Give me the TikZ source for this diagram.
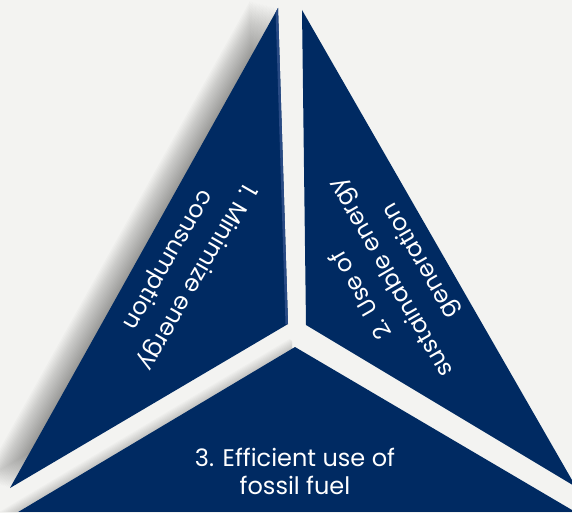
\documentclass[tikz,border=0pt]{standalone}
\usepackage{fontspec}
\setmainfont{Poppins}
\definecolor{navy}{RGB}{0,42,98}
\definecolor{bg}{RGB}{243,243,241}
\definecolor{bevel}{RGB}{40,74,132}
\begin{document}
\begin{tikzpicture}[x=1pt,y=-1pt,
  panel/.style={fill=navy},
  shadowcopy/.style={fill=black, fill opacity=0.021},
  lbl/.style={text=white, align=center, inner sep=0pt, font=\fontsize{23.5}{34}\selectfont},
  lblb/.style={text=white, align=center, inner sep=0pt, font=\fontsize{24}{28}\selectfont}]
\useasboundingbox (0,0) rectangle (572,513);
\fill[bg] (0,0) rectangle (572,513);
\coordinate (L1) at (278,8);
\coordinate (L2) at (288,324);
\coordinate (L3) at (10,488);
\coordinate (R1) at (302,10);
\coordinate (R2) at (306,325);
\coordinate (R3) at (576,487);
\coordinate (B1) at (295,347);
\coordinate (B2) at (-12,530);
\coordinate (B3) at (606,530);
\begin{scope}
\clip (0,0) rectangle (572,511.5);
% soft shadow to the left of panel 1
\foreach \s in {1,...,20}{
  \fill[shadowcopy] ([xshift=-1.4*\s pt, yshift=0.35*\s pt]L1) -- ([xshift=-1.4*\s pt, yshift=0.35*\s pt]L2) -- ([xshift=-1.4*\s pt, yshift=0.35*\s pt]L3) -- cycle;
}
% faint shadow above the left part of panel 3
\begin{scope}
\clip (0,300) rectangle (292,513);
\foreach \s in {1,...,9}{
  \fill[shadowcopy] ([xshift=-0.6*\s pt, yshift=0.9*\s pt]B1) -- ([xshift=-0.6*\s pt, yshift=0.9*\s pt]B2) -- ([xshift=-0.6*\s pt, yshift=0.9*\s pt]B3) -- cycle;
}
\end{scope}
\fill[panel] (L1) -- (L2) -- (L3) -- cycle;
\begin{scope}
\clip (L1) -- (L2) -- (L3) -- cycle;
\draw[bevel, line width=5pt] (L1) -- (L2);
\end{scope}
\fill[panel] (R1) -- (R2) -- (R3) -- cycle;
\fill[panel] (B1) -- (B2) -- (B3) -- cycle;
\end{scope}
\node[lbl, rotate=240] (t1) at (182,268) {1. Minimize energy\\consumption};
\node[lbl, rotate=120] (t2) at (392,277) {2. Use of\\sustainable energy\\generation};
\node[lblb] (t3) at (295,471) {3. Efficient use of\\fossil fuel};
\end{tikzpicture}
\end{document}
